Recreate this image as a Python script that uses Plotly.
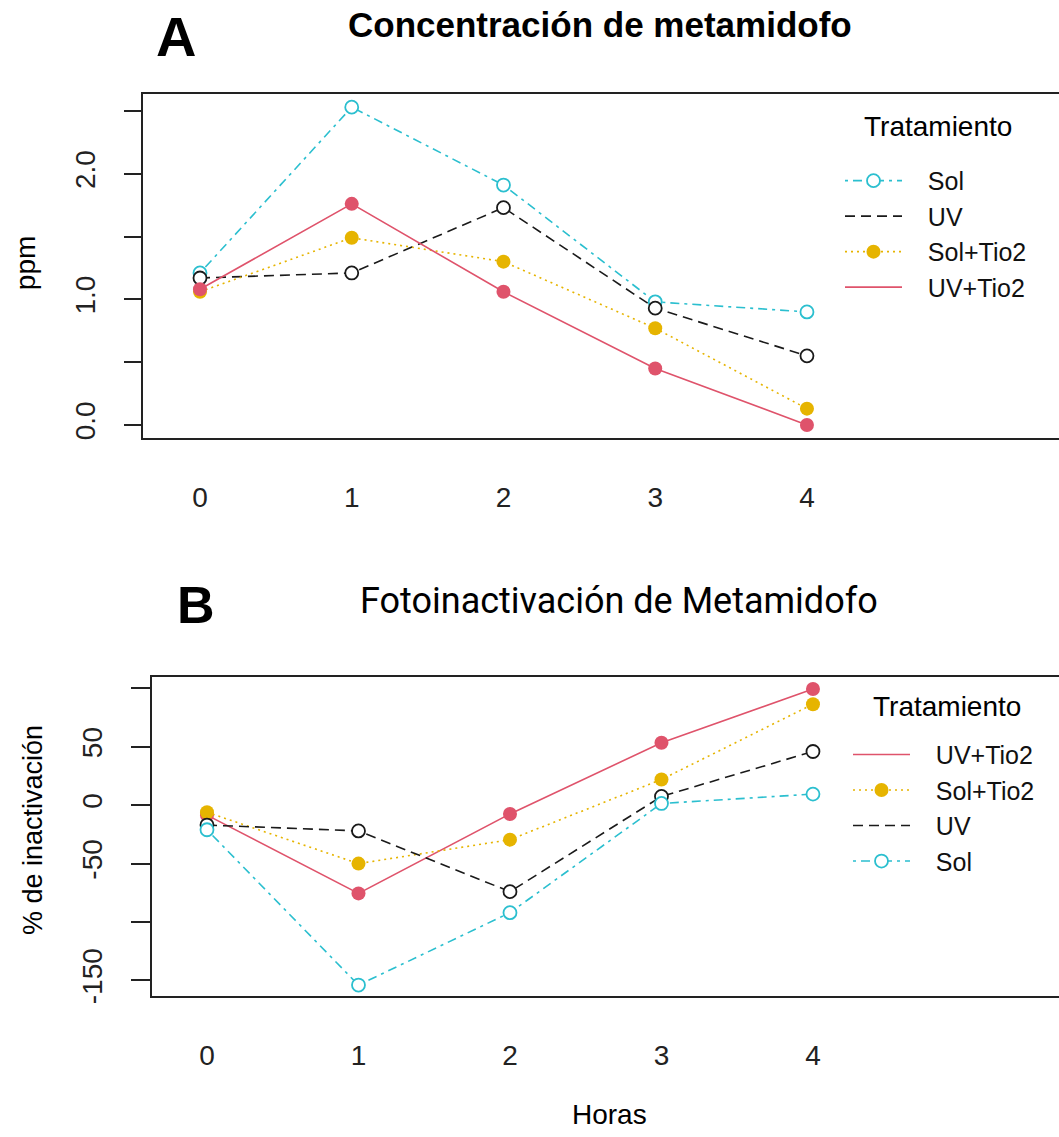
import plotly.graph_objects as go

W, H = 1059, 1137

horas = [0, 1, 2, 3, 4]

# Panel A: concentración (ppm)
conc_sol = [1.21, 2.53, 1.91, 0.98, 0.90]
conc_uv = [1.17, 1.21, 1.73, 0.93, 0.55]
conc_sol_tio2 = [1.06, 1.49, 1.30, 0.77, 0.13]
conc_uv_tio2 = [1.08, 1.76, 1.06, 0.45, 0.00]

# Panel B: % de inactivación
inac_uv_tio2 = [-8.5, -75.5, -7.5, 53.5, 99.5]
inac_sol_tio2 = [-6.0, -50.0, -29.5, 22.0, 86.5]
inac_uv = [-17.0, -22.0, -74.0, 7.5, 46.0]
inac_sol = [-21.0, -154.0, -92.0, 1.5, 9.5]

a_tickvals = [0, 0.5, 1.0, 1.5, 2.0, 2.5]
a_ticktext = ["0.0", "", "1.0", "", "2.0", ""]
b_tickvals = [-150, -100, -50, 0, 50, 100]
b_ticktext = ["-150", "", "-50", "0", "50", ""]
x_ticktext = ["0", "1", "2", "3", "4"]

CYAN = "#2BBFCF"
BLACK = "#1a1a1a"
YELLOW = "#E6B400"
RED = "#DF536B"
FONT = "Liberation Sans, Arial, sans-serif"

styles = {
    "Sol": dict(color=CYAN, dash="3px,5px,9px,5px", open=True, legend_marker=True),
    "UV": dict(color=BLACK, dash="10px,6px", open=True, legend_marker=False),
    "Sol+Tio2": dict(color=YELLOW, dash="2px,4px", open=False, legend_marker=True),
    "UV+Tio2": dict(color=RED, dash="solid", open=False, legend_marker=False),
}

PAD = "\u00a0\u00a0\u00a0"


def marker_for(st):
    if st["open"]:
        return dict(symbol="circle", size=13, color="white",
                    line=dict(color=st["color"], width=1.8))
    return dict(symbol="circle", size=14, color=st["color"], line=dict(width=0))


fig = go.Figure()


def add_series(name, ys, xa, ya, legend):
    st = styles[name]
    fig.add_trace(go.Scatter(
        x=horas, y=ys, mode="lines+markers", name=name,
        line=dict(color=st["color"], width=1.6, dash=st["dash"]),
        marker=marker_for(st), xaxis=xa, yaxis=ya, showlegend=False,
        hoverinfo="x+y+name"))
    # legend entry
    fig.add_trace(go.Scatter(
        x=[None], y=[None], name=PAD + name,
        mode="lines+markers" if st["legend_marker"] else "lines",
        line=dict(color=st["color"], width=1.6, dash=st["dash"]),
        marker=marker_for(st) if st["legend_marker"] else None,
        xaxis=xa, yaxis=ya, legend=legend, showlegend=True))


for nm, ys in [("Sol", conc_sol), ("UV", conc_uv),
               ("Sol+Tio2", conc_sol_tio2), ("UV+Tio2", conc_uv_tio2)]:
    add_series(nm, ys, "x", "y", "legend")

for nm, ys in [("UV+Tio2", inac_uv_tio2), ("Sol+Tio2", inac_sol_tio2),
               ("UV", inac_uv), ("Sol", inac_sol)]:
    add_series(nm, ys, "x2", "y2", "legend2")


def px_x(p):
    return p / W


def px_y(p):
    return 1 - p / H


axis_common = dict(showgrid=False, zeroline=False, showline=True,
                   linecolor="#222", linewidth=1.5,
                   tickfont=dict(family=FONT, size=28, color="#222"))

fig.update_layout(
    width=W, height=H,
    margin=dict(l=0, r=0, t=0, b=0),
    paper_bgcolor="white", plot_bgcolor="white",
    font=dict(family=FONT, color="#111"),
    xaxis=dict(domain=[px_x(143), 1], range=[-0.3756, 5.661], anchor="y",
               tickvals=horas, ticktext=x_ticktext, ticks="", mirror=True,
               ticklabelstandoff=34, **axis_common),
    yaxis=dict(domain=[px_y(441), px_y(95)], range=[-0.103, 2.632], anchor="x",
               tickvals=a_tickvals, ticktext=a_ticktext, ticks="outside",
               ticklen=17, tickwidth=1.5, tickcolor="#222", tickangle=-90,
               ticklabelstandoff=18, **axis_common),
    xaxis2=dict(domain=[px_x(152), 1], range=[-0.363, 5.624], anchor="y2",
                tickvals=horas, ticktext=x_ticktext, ticks="", mirror=True,
                ticklabelstandoff=34, **axis_common),
    yaxis2=dict(domain=[px_y(1003), px_y(682)], range=[-163.3, 109.6], anchor="x2",
                tickvals=b_tickvals, ticktext=b_ticktext, ticks="outside",
                ticklen=19, tickwidth=1.5, tickcolor="#222", tickangle=-90,
                ticklabelstandoff=18, **axis_common),
    legend=dict(x=px_x(840), y=px_y(159), xanchor="left", yanchor="top",
                bgcolor="rgba(0,0,0,0)", font=dict(family=FONT, size=25, color="#111"),
                itemwidth=57),
    legend2=dict(x=px_x(848), y=px_y(737), xanchor="left", yanchor="top",
                 bgcolor="rgba(0,0,0,0)", font=dict(family=FONT, size=25, color="#111"),
                 itemwidth=57),
)

ann = [
    dict(text="<b>A</b>", x=176, y=37, size=56, family=FONT, angle=0),
    dict(text="<b>Concentración de metamidofo</b>", x=600, y=25, size=35, family=FONT, angle=0),
    dict(text="<b>B</b>", x=196, y=609, size=52, family=FONT, angle=0),
    dict(text="Fotoinactivación de Metamidofo", x=619, y=605, size=36, family="Roboto, sans-serif", angle=0),
    dict(text="ppm", x=25, y=265, size=28, family=FONT, angle=-90),
    dict(text="% de inactivación", x=33, y=836, size=27, family=FONT, angle=-90),
    dict(text="Horas", x=609, y=1122, size=28, family=FONT, angle=0),
    dict(text="Tratamiento", x=938, y=127, size=28, family=FONT, angle=0),
    dict(text="Tratamiento", x=947, y=712, size=28, family=FONT, angle=0),
]
for a in ann:
    fig.add_annotation(text=a["text"], x=px_x(a["x"]), y=px_y(a["y"]),
                       xref="paper", yref="paper", showarrow=False,
                       xanchor="center", yanchor="middle", textangle=a["angle"],
                       font=dict(family=a["family"], size=a["size"], color="#000"))

fig.write_html("out.html")
